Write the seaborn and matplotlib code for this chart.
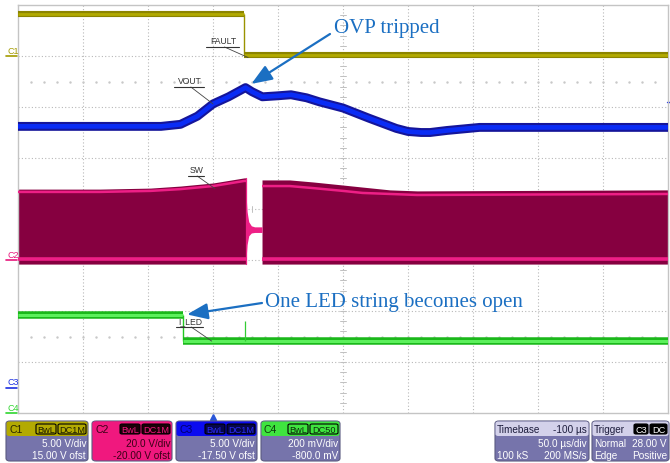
import numpy as np
import pandas as pd
import matplotlib
matplotlib.use("Agg")
import matplotlib.pyplot as plt
import matplotlib.transforms as mtransforms
from matplotlib.patches import FancyBboxPatch
import seaborn as sns

# ---------------- scope settings (info bar) ----------------
channels = ["C1", "C2", "C3", "C4"]
volts_per_div = [5.0, 20.0, 5.0, 200.0]
offsets = [15.0, -20.0, -17.5, -800.0]
time_per_div = 50.0          # µs/div
time_delay = -100.0          # µs
n_xdiv, n_ydiv = 10, 8

# ---------------- traces (time in µs, trigger at 0) ----------------
# C1: FAULT (V)
fault_t = [-150, 23.8, 23.8, 350]
fault_v = [4.1, 4.1, 0.1, 0.1]

# C3: VOUT (V)
vout_t = [-150, -40, -25, -12, 0, 12, 25, 30, 38, 50, 60, 72, 82, 100,
          120, 141, 150, 160, 167, 180, 205, 221, 350]
vout_v = [25.6, 25.6, 25.8, 26.6, 27.8, 28.5, 29.4, 29.0, 28.5, 28.6, 28.7,
          28.4, 28.0, 27.4, 26.4, 25.4, 25.1, 25.0, 25.0, 25.2, 25.5, 25.5, 25.5]

# C2: SW node (V) - switching envelope before and after the OVP gap
sw_t_a = [-150, -87, -48, -25, 0, 24, 25.4]
sw_env_a = [27.8, 27.8, 28.2, 29.0, 30.2, 32.2, 32.2]
sw_pink_a = [26.7, 26.7, 27.1, 27.8, 29.0, 31.0, 31.0]
sw_t_b = [37.7, 59, 77, 100, 115, 136, 157, 350]
sw_env_b = [31.4, 31.4, 30.6, 29.4, 28.6, 27.5, 27.1, 27.5]
sw_pink_b = [29.0, 29.0, 28.2, 27.1, 26.3, 25.9, 25.5, 25.9]
sw_env_low = -1.6
sw_pink_low = 0.4
sw_ring_t = [25.4, 26.2, 27.5, 29.5, 32, 37.7]
sw_ring_hi = [26.0, 19.0, 15.0, 13.4, 13.0, 13.0]
sw_ring_lo = [0.0, 6.0, 9.5, 10.6, 10.8, 10.8]

# C4: I_LED sense (mV)
iled_t = [-150, -23.1, -23.1, 350]
iled_mv = [384, 384, 282, 282]
iled_spike_t = [24.6, 24.6]
iled_spike_mv = [282, 361]

trigger_level = 28.0  # V on C3

# ---------------- figure ----------------
sns.set_style("white")
plt.rcParams["font.family"] = ["Liberation Sans", "DejaVu Sans"]

W, H = 670, 464
fig = plt.figure(figsize=(W / 100, H / 100), dpi=100)
fig.patch.set_facecolor("white")


def fx(px):
    return px / W


def fy(py):
    return 1 - py / H


AX_L, AX_R, AX_T, AX_B = 18, 668, 6, 414
ax = fig.add_axes([fx(AX_L), fy(AX_B), (AX_R - AX_L) / W, (AX_B - AX_T) / H])
t_min = time_delay - time_per_div * n_xdiv / 2 + 200  # -150 µs at left edge
t_max = t_min + time_per_div * n_xdiv
ax.set_xlim(t_min, t_max)
ax.set_ylim(-n_ydiv / 2, n_ydiv / 2)
ax.set_xticks([])
ax.set_yticks([])
ax.set_xlabel("")
for s in ax.spines.values():
    s.set_color("#c4c4c4")
    s.set_linewidth(1.0)


def to_div(vals, ch):
    i = channels.index(ch)
    return (np.asarray(vals, dtype=float) + offsets[i]) / volts_per_div[i]


# grid
grid_kw = dict(color="#b8b8b8", lw=0.8, ls=(0, (1, 2)), zorder=0)
for k in range(1, n_xdiv):
    ax.axvline(t_min + k * time_per_div, **grid_kw)
for k in range(1, n_ydiv):
    ax.axhline(-n_ydiv / 2 + k, **grid_kw)
# center cross tick marks
t_c = t_min + time_per_div * n_xdiv / 2
for yy in np.arange(-4, 4.01, 0.2):
    ax.plot([t_c - 2.0, t_c + 2.0], [yy, yy], color="#c0c0c0", lw=0.7, zorder=0)
for tt in np.arange(t_min, t_max + 0.1, 10):
    ax.plot([tt, tt], [-0.055, 0.055], color="#c0c0c0", lw=0.7, zorder=0)
dot_t = np.arange(t_min + 10, t_max, 10)
for yy in (2.5, -2.5):
    ax.plot(dot_t, np.full(len(dot_t), yy), ls="none", marker="s", ms=0.7,
            color="#c8c8c8", zorder=0)


def line(t, y, color, lw, z=3):
    df = pd.DataFrame({"t": t, "y": y})
    sns.lineplot(data=df, x="t", y="y", ax=ax, color=color, lw=lw,
                 estimator=None, sort=False, zorder=z, solid_capstyle="butt")


# C1 FAULT
fy_div = to_div(fault_v, "C1")
line(fault_t[0:2], fy_div[0:2], "#8c8500", 4.4)
line(fault_t[0:2], fy_div[0:2], "#b2aa00", 2.0)
line(fault_t[1:3], fy_div[1:3], "#9a9300", 1.0)
line(fault_t[2:4], fy_div[2:4], "#8c8500", 4.4)
line(fault_t[2:4], fy_div[2:4], "#b2aa00", 2.0)

# C3 VOUT
vd = to_div(vout_v, "C3")
line(vout_t, vd, "#15159a", 6.4)
line(vout_t, vd, "#0a2cf5", 3.4)

# C2 SW
for t_s, env, pink in ((sw_t_a, sw_env_a, sw_pink_a), (sw_t_b, sw_env_b, sw_pink_b)):
    ax.fill_between(t_s, to_div(np.full(len(t_s), sw_env_low), "C2"), to_div(env, "C2"),
                    color="#860040", lw=0, zorder=2)
    line(t_s, to_div(pink, "C2"), "#ee1f86", 1.8)
    line(t_s, to_div(np.full(len(t_s), sw_pink_low), "C2"), "#ee1f86", 2.6)
ax.fill_between(sw_ring_t, to_div(sw_ring_lo, "C2"), to_div(sw_ring_hi, "C2"),
                color="#ee1f86", lw=0, zorder=2)
ax.plot([sw_t_a[-1], sw_t_a[-1]], to_div([sw_env_low, sw_env_a[-1]], "C2"),
        color="#ee1f86", lw=0.9, zorder=3)

# C4 I_LED
idv = to_div(iled_mv, "C4")
line(iled_t[0:2], idv[0:2], "#1ab81a", 5.4)
line(iled_t[0:2], idv[0:2], "#5cf05c", 2.2)
line(iled_t[1:3], idv[1:3], "#22c822", 1.0)
line(iled_t[2:4], idv[2:4], "#1ab81a", 5.4)
line(iled_t[2:4], idv[2:4], "#5cf05c", 2.2)
line(iled_spike_t, to_div(iled_spike_mv, "C4"), "#33cc33", 0.9)
ax.set_xlabel("")
ax.set_ylabel("")

# channel ground markers on the left
ch_cols = ["#a39b00", "#e8167c", "#1b2ee0", "#2fd52f"]
btr = mtransforms.blended_transform_factory(fig.transFigure, ax.transData)
for ch, col in zip(channels, ch_cols):
    g = to_div([0.0], ch)[0]
    ax.plot([fx(6), fx(17)], [g, g], color=col, lw=1.2, transform=btr, clip_on=False)
    ax.text(fx(7), g + 0.02, ch, color=col, fontsize=6.5, transform=btr,
            ha="left", va="bottom", clip_on=False)

# trigger level marker right edge
tl = to_div([trigger_level], "C3")[0]
ax.plot([fx(667), fx(670)], [tl, tl], color="#1b2ee0", lw=1.0, transform=btr, clip_on=False)
# trigger position marker below grid
ax.plot([0], [-4.08], marker="^", ms=5, color="#2a56d8", clip_on=False, ls="none")

# ---------------- trace labels with leaders ----------------
lab_col = "#333333"


def trace_label(text, x0, x1, yc, target):
    fig.text(fx((x0 + x1) / 2), fy(yc), text, fontsize=6.2, color=lab_col,
             ha="center", va="center")
    fig.add_artist(plt.Line2D([fx(x0 - 2), fx(x1 + 1)], [fy(yc + 6), fy(yc + 6)],
                              color=lab_col, lw=0.8, transform=fig.transFigure))
    ax.annotate("", xy=target, xycoords="data",
                xytext=(x0 + (x1 - x0) * 0.55, H - (yc + 6)), textcoords="figure pixels",
                arrowprops=dict(arrowstyle="-", color="#444444", lw=0.6,
                                shrinkA=0, shrinkB=0))


trace_label("FAULT", 208, 238, 42, (27.0, to_div([fault_v[-1]], "C1")[0] - 0.05))
trace_label("VOUT", 176, 203, 82, (0.0, to_div([vout_v[4]], "C3")[0]))
trace_label("SW", 190, 203, 171, (1.5, to_div([sw_pink_a[4]], "C2")[0] - 0.05))
trace_label("I_LED", 178, 202, 322, (-1.0, to_div([iled_mv[-1]], "C4")[0]))

# ---------------- callouts ----------------
call_col = "#1b6fc2"
peak_i = int(np.argmax(vout_v))
ax.annotate("", xy=(vout_t[peak_i], to_div([vout_v[peak_i]], "C3")[0]), xycoords="data",
            xytext=(330, H - 35), textcoords="figure pixels",
            arrowprops=dict(arrowstyle="-|>,head_length=0.9,head_width=0.35",
                            mutation_scale=14, color=call_col, lw=1.6,
                            shrinkA=0, shrinkB=5))
fig.text(fx(334), fy(29), "OVP tripped", family=["Liberation Serif"], fontsize=15,
         color=call_col, ha="left", va="center")

ax.annotate("", xy=(iled_t[1], to_div([iled_mv[0]], "C4")[0]), xycoords="data",
            xytext=(262, H - 304), textcoords="figure pixels",
            arrowprops=dict(arrowstyle="-|>,head_length=0.9,head_width=0.35",
                            mutation_scale=14, color=call_col, lw=1.6,
                            shrinkA=0, shrinkB=3))
fig.text(fx(265), fy(302), "One LED string becomes open", family=["Liberation Serif"],
         fontsize=15, color=call_col, ha="left", va="center")

# ---------------- info bar ----------------
LAV = "#7674ab"
LAV_HEAD = "#d3d1ea"


def rect(x0, y0, x1, y1, fc, ec="none", lw=0.0, rs=0.0):
    p = FancyBboxPatch((fx(x0), fy(y1)), fx(x1) - fx(x0), fy(y0) - fy(y1),
                       boxstyle=f"round,pad=0,rounding_size={rs}",
                       transform=fig.transFigure, fc=fc, ec=ec, lw=lw)
    fig.add_artist(p)


def ftext(x, y, s, ha="left", color="white", size=7.0):
    fig.text(fx(x), fy(y), s, ha=ha, va="center", color=color, fontsize=size)


def tag(x0, x1, s, fc, tc, ec="black"):
    rect(x0, 425, x1, 435, fc, ec=ec, lw=0.8, rs=0.003)
    ftext((x0 + x1) / 2, 430.5, s, ha="center", color=tc, size=6.6)


Y0, YH, Y1 = 422, 437, 462
bar_channels = [
    (6, 88, "#b3aa00", LAV, "#2a2600", "#b3aa00", "#1a1a00", "white", "5.00 V/div", "15.00 V ofst", ("BwL", "DC1M")),
    (92, 172, "#f0187e", "#f0187e", "#3a0016", "#1a0008", "#f0187e", "#3a0016", "20.0 V/div", "-20.00 V ofst", ("BwL", "DC1M")),
    (176, 257, "#0b0bf0", LAV, "#00006a", "#06064a", "#2a2af8", "white", "5.00 V/div", "-17.50 V ofst", ("BwL", "DC1M")),
    (261, 340, "#3fe43f", LAV, "#0c3a0c", "#3fe43f", "#0a2a0a", "white", "200 mV/div", "-800.0 mV", ("BwL", "DC50")),
]
for (x0, x1, hc, bc, lc, tf, tt, txc, l1, l2, tags), ch in zip(bar_channels, channels):
    rect(x0, Y0, x1, Y1, bc, ec="#5a5a80", lw=0.8, rs=0.006)
    rect(x0 + 0.5, Y0 + 0.5, x1 - 0.5, YH, hc, rs=0.004)
    ftext(x0 + 3, 430, ch, color=lc, size=7.5)
    tw = [20, 28]
    tx = x1 - 2 - tw[1]
    tag(tx, x1 - 2, tags[1], tf, tt)
    tag(tx - 2 - tw[0], tx - 2, tags[0], tf, tt)
    ftext(x1 - 2, 444, l1, ha="right", color=txc, size=7.2)
    ftext(x1 - 2, 456, l2, ha="right", color=txc, size=7.2)

# timebase
rect(495, Y0, 589, Y1, LAV, ec="#5a5a80", lw=0.8, rs=0.006)
rect(495.5, Y0 + 0.5, 588.5, YH, LAV_HEAD, rs=0.004)
ftext(497, 430, "Timebase", color="#1c1c3c", size=7.2)
ftext(587, 430, "-100 µs", ha="right", color="#1c1c3c", size=7.2)
ftext(587, 444, "50.0 µs/div", ha="right", size=7.2)
ftext(497, 456, "100 kS", size=7.2)
ftext(587, 456, "200 MS/s", ha="right", size=7.2)

# trigger
rect(592, Y0, 669, Y1, LAV, ec="#5a5a80", lw=0.8, rs=0.006)
rect(592.5, Y0 + 0.5, 668.5, YH, LAV_HEAD, rs=0.004)
ftext(594, 430, "Trigger", color="#1c1c3c", size=7.2)
tag(634, 648, "C3", "black", "white")
tag(650, 667, "DC", "black", "white")
ftext(594, 444, "Normal", size=7.2)
ftext(667, 444, "28.00 V", ha="right", size=7.2)
ftext(594, 456, "Edge", size=7.2)
ftext(667, 456, "Positive", ha="right", size=7.2)

fig.savefig("out.png", dpi=100, facecolor="white")
